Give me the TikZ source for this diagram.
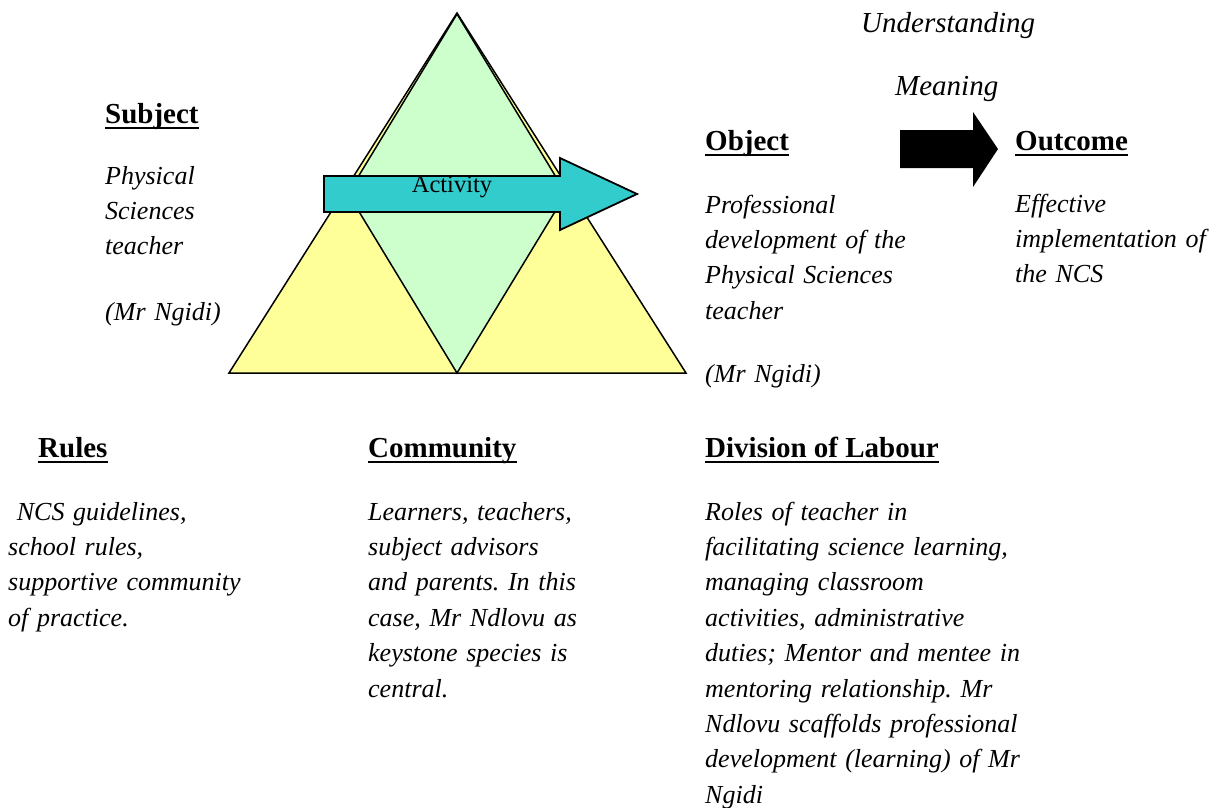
\documentclass[tikz,border=0pt]{standalone}
\usepackage{fontspec}
\setmainfont{Liberation Serif}
\definecolor{triyellow}{HTML}{FFFF99}
\definecolor{trigreen}{HTML}{CCFFCC}
\definecolor{actteal}{HTML}{33CCCC}
\begin{document}
\frenchspacing
\begin{tikzpicture}[x=1pt,y=-1pt,
  heading/.style={anchor=base west, inner sep=0pt, font=\fontsize{29}{33}\selectfont\bfseries},
  body/.style={anchor=base west, inner sep=0pt, text width=340pt, align=left,
               font=\fontsize{26}{35.4}\selectfont\itshape},
  label/.style={anchor=base west, inner sep=0pt, font=\fontsize{29}{33}\selectfont\itshape},
  uline/.style={line width=2.8pt},
  tri/.style={draw=black, line width=1.5pt, line join=miter},
  actarrow/.style={draw=black, line width=1.8pt, fill=actteal},
  bigarrow/.style={fill=black}
]
\useasboundingbox (0,0) rectangle (1227,807);

% activity triangle: yellow base triangle with the green diamond over it
\path[tri, fill=triyellow] (457,13) -- (686,373) -- (229,373) -- cycle;
\path[tri, fill=trigreen] (457,14) -- (566,193.5) -- (457,373) -- (348,193.5) -- cycle;

% activity arrow
\path[actarrow] (324,176) -- (560,176) -- (560,158) -- (637,194) -- (560,230)
  -- (560,212) -- (324,212) -- cycle;
\node[anchor=base, inner sep=0pt, font=\fontsize{24.5}{28}\selectfont] (act) at (452,192) {Activity};

% object to outcome arrow
\path[bigarrow] (900,130) -- (973,130) -- (973,112) -- (998,149) -- (973,187)
  -- (973,168) -- (900,168) -- cycle;
\node[label] (underst) at (861,32) {Understanding};
\node[label] (meaning) at (895,95) {Meaning};

% subject
\node[heading] (hsubj) at (105,123) {Subject};
\node[body] (bsubj) at (105,184) {Physical\\Sciences\\teacher};
\node[body] (nsubj) at (105,320) {(Mr Ngidi)};

% object
\node[heading] (hobj) at (705,150) {Object};
\node[body] (bobj) at (705,213) {Professional\\development of the\\Physical Sciences\\teacher};
\node[body] (nobj) at (705,382) {(Mr Ngidi)};

% outcome
\node[heading] (hout) at (1015,150) {Outcome};
\node[body] (bout) at (1015,212) {Effective\\implementation of\\the NCS};

% rules
\node[heading] (hrules) at (38,457) {Rules};
\node[body] (brules) at (8,520) {\ NCS guidelines,\\school rules,\\supportive community\\of practice.};

% community
\node[heading] (hcomm) at (368,457) {Community};
\node[body] (bcomm) at (368,520) {Learners, teachers,\\subject advisors\\and parents. In this\\case, Mr Ndlovu as\\keystone species is\\central.};

% division of labour
\node[heading] (hdiv) at (705,457) {Division of Labour};
\node[body] (bdiv) at (705,520) {Roles of teacher in\\facilitating science learning,\\managing classroom\\activities, administrative\\duties; Mentor and mentee in\\mentoring relationship. Mr\\Ndlovu scaffolds professional\\development (learning) of Mr\\Ngidi};

% heading underlines
\foreach \h in {hsubj,hobj,hout,hrules,hcomm,hdiv}
  \draw[uline] ([yshift=-5pt]\h.base west) -- ([yshift=-5pt]\h.base east);
\end{tikzpicture}
\end{document}
